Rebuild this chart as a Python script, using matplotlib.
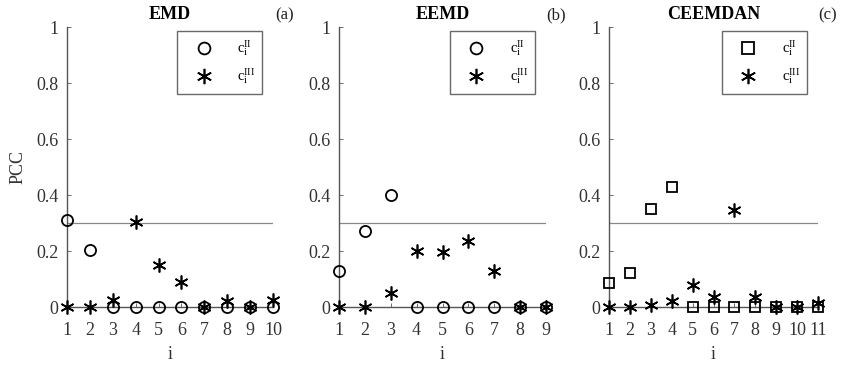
import matplotlib
matplotlib.use("Agg")
import matplotlib.pyplot as plt
from matplotlib.lines import Line2D

plt.rcParams['font.family'] = ['Liberation Serif', 'DejaVu Serif']
plt.rcParams['mathtext.fontset'] = 'custom'
plt.rcParams['mathtext.rm'] = 'Liberation Serif'
plt.rcParams['mathtext.it'] = 'Liberation Serif'

titles = ["EMD", "EEMD", "CEEMDAN"]
panel_tags = ["(a)", "(b)", "(c)"]

emd_i = list(range(1, 11))
emd_c2 = [0.31, 0.205, 0, 0, 0, 0, 0, 0, 0, 0]
emd_c3 = [0, 0, 0.025, 0.305, 0.15, 0.09, 0, 0.02, 0, 0.025]

eemd_i = list(range(1, 10))
eemd_c2 = [0.13, 0.27, 0.40, 0, 0, 0, 0, 0, 0]
eemd_c3 = [0, 0, 0.05, 0.20, 0.195, 0.235, 0.13, 0, 0]

ceemdan_i = list(range(1, 12))
ceemdan_c2 = [0.085, 0.12, 0.35, 0.43, 0, 0, 0, 0, 0, 0, 0]
ceemdan_c3 = [0, 0, 0.008, 0.02, 0.08, 0.035, 0.345, 0.035, 0, 0, 0.015]

threshold = 0.3
yticks = [0, 0.2, 0.4, 0.6, 0.8, 1]
ytick_labels = ["0", "0.2", "0.4", "0.6", "0.8", "1"]

panels = [
    (emd_i, emd_c2, emd_c3, 'o'),
    (eemd_i, eemd_c2, eemd_c3, 'o'),
    (ceemdan_i, ceemdan_c2, ceemdan_c3, 's'),
]

W, H = 841, 365
fig = plt.figure(figsize=(W / 100, H / 100), dpi=100)

ax_px = [(67, 273), (339, 546), (609, 818)]
y_top, y_bot = 27, 307
tag_x = [285, 556, 828]
axis_gray = '#555555'
asterisk = (6, 2, 0)

for k, ((xs, c2, c3, m2), (xl, xr)) in enumerate(zip(panels, ax_px)):
    ax = fig.add_axes([xl / W, 1 - y_bot / H, (xr - xl) / W, (y_bot - y_top) / H])
    ax.set_xlim(xs[0], xs[-1])
    ax.set_ylim(0, 1)
    ax.plot([xs[0], xs[-1]], [threshold, threshold], color='#888888', lw=0.9, zorder=1)
    ax.plot(xs, c2, linestyle='none', marker=m2, markersize=8 if m2 == 'o' else 7.5,
            markerfacecolor='none', markeredgecolor='black', markeredgewidth=1.3,
            clip_on=False, zorder=3)
    ax.plot(xs, c3, linestyle='none', marker=asterisk, markersize=10,
            markeredgecolor='black', markeredgewidth=1.2, clip_on=False, zorder=4)
    for s in ['top', 'right']:
        ax.spines[s].set_visible(False)
    for s in ['left', 'bottom']:
        ax.spines[s].set_color(axis_gray)
        ax.spines[s].set_linewidth(1.0)
    ax.set_xticks(xs)
    ax.set_xticklabels([str(v) for v in xs])
    ax.set_yticks(yticks)
    ax.set_yticklabels(ytick_labels)
    ax.tick_params(axis='x', direction='in', length=3, width=0.6, colors=axis_gray,
                   labelsize=13, labelcolor='#333333', pad=11)
    ax.tick_params(axis='y', direction='in', length=3, width=0.6, colors=axis_gray,
                   labelsize=13, labelcolor='#333333', pad=6)
    ax.set_xlabel('i', fontsize=13, color='#333333', labelpad=5)
    if k == 0:
        ax.set_ylabel('PCC', fontsize=13, color='#333333', labelpad=7)
    ax.set_title(titles[k], fontsize=13, fontweight='bold', pad=6)
    fig.text(tag_x[k] / W, 1 - 15 / H, panel_tags[k], fontsize=12,
             ha='center', va='center', color='#222222')

    handles = [
        Line2D([], [], linestyle='none', marker=m2, markersize=8.5 if m2 == 'o' else 8,
               markerfacecolor='none', markeredgecolor='black', markeredgewidth=1.3),
        Line2D([], [], linestyle='none', marker=asterisk, markersize=11,
               markeredgecolor='black', markeredgewidth=1.2),
    ]
    labels = [r'$\mathrm{c}_{\mathrm{i}}^{\mathrm{II}}$', r'$\mathrm{c}_{\mathrm{i}}^{\mathrm{III}}$']
    leg = ax.legend(handles, labels, loc='upper right', bbox_to_anchor=(0.97, 1.0),
                    fontsize=10.5, frameon=True, fancybox=False, edgecolor='#444444',
                    borderpad=0.5, labelspacing=0.55, handlelength=2.6, handletextpad=1.0,
                    borderaxespad=0.3)
    leg.get_frame().set_linewidth(1.0)

fig.savefig('out.png', dpi=100)
